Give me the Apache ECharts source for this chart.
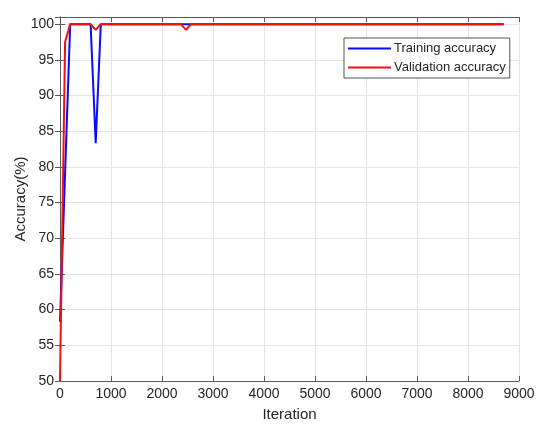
<!DOCTYPE html>
<html>
<head>
<meta charset="utf-8">
<script src="https://cdn.jsdelivr.net/npm/echarts@6/dist/echarts.min.js"></script>
<style>html,body{margin:0;padding:0;background:#fff;}#c{width:551px;height:430px;}</style>
</head>
<body>
<div id="c"></div>
<script>
// Iterations at which values change
var trainIter = [0, 100, 200, 600, 700, 800, 8700];
var trainAcc  = [58.3, 79.2, 100, 100, 83.3, 100, 100];
var valIter   = [0, 100, 200, 600, 700, 800, 2370, 2470, 2570, 8700];
var valAcc    = [50, 97.5, 100, 100, 99.2, 100, 100, 99.2, 100, 100];
var seriesNames = ['Training accuracy', 'Validation accuracy'];
var xTitle = 'Iteration';
var yTitle = 'Accuracy(%)';

function pairs(xs, ys) { return xs.map(function (x, i) { return [x, ys[i]]; }); }

var chart = echarts.init(document.getElementById('c'), null, {renderer: 'canvas'});
var axisColor = '#5a5a5a';
var font = 'Liberation Sans, Arial, sans-serif';
chart.setOption({
  animation: false,
  backgroundColor: '#fff',
  grid: {left: 60, right: 32, top: 17, bottom: 49, outerBoundsMode: 'none', containLabel: false},
  legend: {
    data: seriesNames.map(function (n) { return {name: n, icon: 'rect'}; }),
    orient: 'vertical',
    left: 344, top: 38,
    itemWidth: 43, itemHeight: 2, itemGap: 6,
    padding: [4, 4, 4, 4],
    borderColor: '#555', borderWidth: 1, borderRadius: 0,
    backgroundColor: '#fff',
    textStyle: {fontFamily: font, fontSize: 13, color: '#262626', padding: [0,0,0,-2]}
  },
  xAxis: [{
    type: 'value', min: 0, max: 9000, interval: 1000,
    name: xTitle, nameLocation: 'middle', nameGap: 26, nameMoveOverlap: false,
    nameTextStyle: {fontFamily: font, fontSize: 15, color: '#262626'},
    axisLine: {show: true, lineStyle: {color: axisColor, width: 1}},
    axisTick: {show: true, inside: true, length: 5, lineStyle: {color: axisColor}},
    axisLabel: {fontFamily: font, fontSize: 14, color: '#262626', margin: 6,
      formatter: function (v) { return String(v); }},
    splitLine: {show: true, lineStyle: {color: '#e4e4e4', width: 1}}
  }, {
    type: 'value', min: 0, max: 9000, interval: 1000, position: 'top',
    axisLine: {show: true, lineStyle: {color: axisColor, width: 1}},
    axisTick: {show: true, inside: true, length: 5, lineStyle: {color: axisColor}},
    axisLabel: {show: false}, splitLine: {show: false}
  }],
  yAxis: [{
    type: 'value', min: 50, max: 101, interval: 5,
    name: yTitle, nameLocation: 'middle', nameGap: 32, nameMoveOverlap: false,
    nameTextStyle: {fontFamily: font, fontSize: 15, color: '#262626'},
    axisLine: {show: true, lineStyle: {color: axisColor, width: 1}},
    axisTick: {show: true, inside: true, length: 5, lineStyle: {color: axisColor}},
    axisLabel: {fontFamily: font, fontSize: 14, color: '#262626', margin: 6, showMaxLabel: false,
      formatter: function (v) { return v > 100 ? '' : String(v); }},
    splitLine: {show: true, lineStyle: {color: '#e4e4e4', width: 1}}
  }, {
    type: 'value', min: 50, max: 101, interval: 5, position: 'right',
    axisLine: {show: true, lineStyle: {color: axisColor, width: 1}},
    axisTick: {show: true, inside: true, length: 5, lineStyle: {color: axisColor}},
    axisLabel: {show: false}, splitLine: {show: false}
  }],
  series: [{
    name: seriesNames[0], type: 'line', symbol: 'none',
    data: pairs(trainIter, trainAcc),
    lineStyle: {color: '#0a0aff', width: 2}, itemStyle: {color: '#0a0aff'}, z: 2
  }, {
    name: seriesNames[1], type: 'line', symbol: 'none',
    data: pairs(valIter, valAcc),
    lineStyle: {color: '#f01010', width: 2}, itemStyle: {color: '#f01010'}, z: 3
  }]
});
</script>
</body>
</html>
